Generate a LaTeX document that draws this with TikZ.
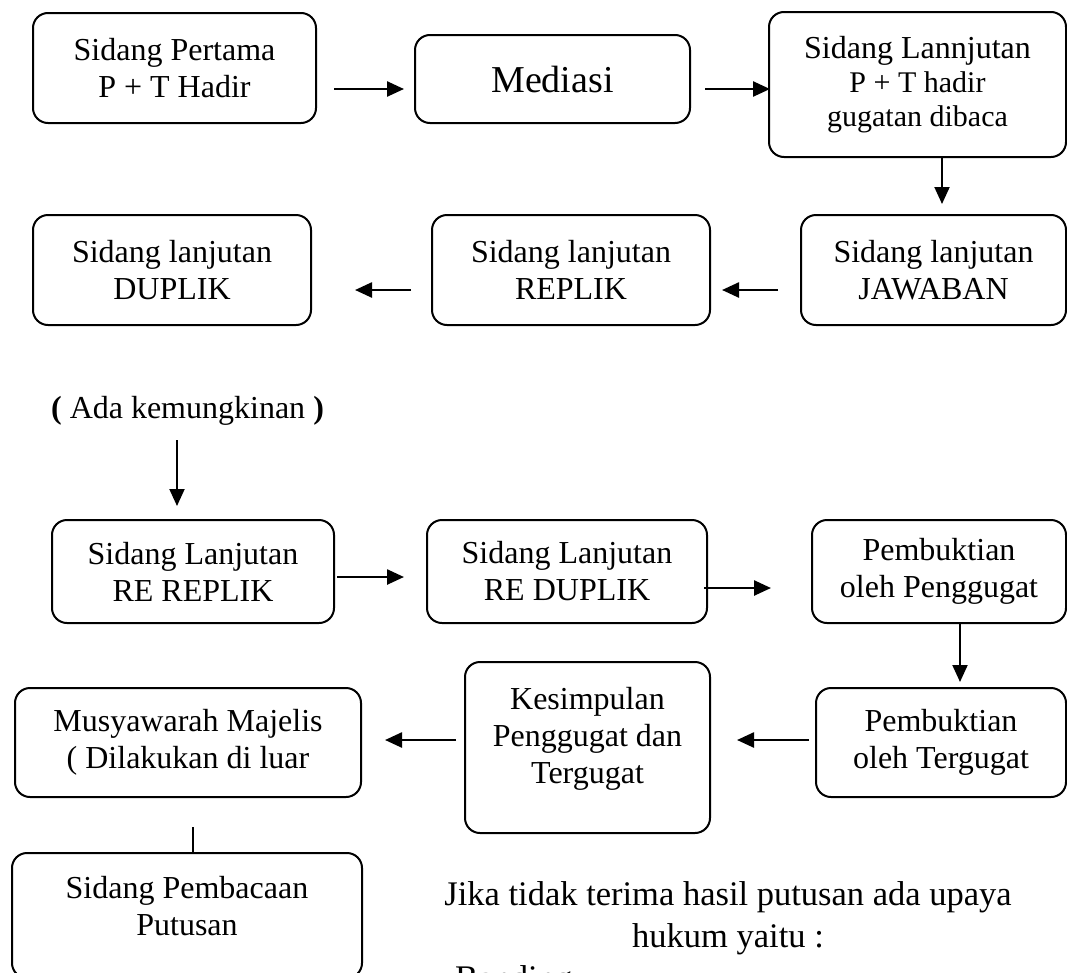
\documentclass[tikz,border=0pt]{standalone}
\usepackage{fontspec}
\setmainfont{Liberation Serif}
\usetikzlibrary{calc,arrows.meta}

\begin{document}
\begin{tikzpicture}[
  x=1pt, y=-1pt,
  box/.style={draw, line width=2pt, rounded corners=15pt, align=center,
    inner sep=2pt, font=\fontsize{32}{37}\selectfont},
  flow/.style={draw, line width=2.5pt, -{Triangle[length=17pt,width=15pt]}},
  drop/.style={draw, line width=2pt, -{Triangle[length=17pt,width=15pt]}},
  note/.style={inner sep=0pt, font=\fontsize{34.5}{42}\selectfont}
]
\useasboundingbox (0,0) rectangle (1067,972);

% baris 1
\node[box, minimum width=283, minimum height=110] (pertama) at (174.5,68) {Sidang Pertama\\P + T Hadir};
\node[box, minimum width=275, minimum height=88, font=\fontsize{38}{44}\selectfont] (mediasi) at (552.5,79) {Mediasi};
\node[box, minimum width=297, minimum height=145, font=\fontsize{30}{34}\selectfont] (lanjut) at (917.5,84.5)
  {{\fontsize{32}{34}\selectfont Sidang Lannjutan}\\P + T hadir\\gugatan dibaca};

% baris 2
\node[box, minimum width=278, minimum height=110] (duplik) at (172,270) {Sidang lanjutan\\DUPLIK};
\node[box, minimum width=278, minimum height=110] (replik) at (571,270) {Sidang lanjutan\\REPLIK};
\node[box, minimum width=265, minimum height=110] (jawaban) at (933.5,270) {Sidang lanjutan\\JAWABAN};

\node[inner sep=0pt, anchor=base, font=\fontsize{32}{37}\selectfont] (ada) at (187.5,418)
  {\textbf{(} Ada kemungkinan \textbf{)}};

% baris 3
\node[box, minimum width=282, minimum height=103] (rereplik) at (193,571.5) {Sidang Lanjutan\\RE REPLIK};
\node[box, minimum width=280, minimum height=103] (reduplik) at (567,571.5) {Sidang Lanjutan\\RE DUPLIK};
\node[box, minimum width=254, minimum height=103] (bukti1) at (939,571.5) {Pembuktian\\oleh Penggugat};

% baris 4
\node[box, minimum width=250, minimum height=109] (bukti2) at (941,742.5) {Pembuktian\\oleh Tergugat};
\node[box, minimum width=245, minimum height=171, text depth=24pt] (simpul) at (587.5,747.5)
  {Kesimpulan\\Penggugat dan\\Tergugat};
\node[box, minimum width=346, minimum height=109] (musyawarah) at (188,742.5)
  {Musyawarah Majelis\\( Dilakukan di luar};
\node[box, minimum width=350, minimum height=125, text depth=19pt] (putusan) at (187,915.5)
  {Sidang Pembacaan\\Putusan};

\node[note, anchor=base] (jika1) at (728,905) {Jika tidak terima hasil putusan ada upaya};
\node[note, anchor=base] (jika2) at (728,947) {hukum yaitu :};
\node[note, anchor=base west] (banding) at (455,989) {Banding};

% panah
\draw[flow, shorten <=17pt, shorten >=10pt] (pertama.east |- 0,89) -- (mediasi.west |- 0,89);
\draw[flow, shorten <=14pt, shorten >=-2pt] (mediasi.east |- 0,89) -- (lanjut.west |- 0,89);
\draw[drop, shorten >=10pt] (lanjut.south -| 942,0) -- (jawaban.north -| 942,0);
\draw[flow, shorten <=22pt, shorten >=11pt] (jawaban.west |- 0,290) -- (replik.east |- 0,290);
\draw[flow, shorten <=20pt, shorten >=43pt] (replik.west |- 0,290) -- (duplik.east |- 0,290);
\draw[drop, shorten <=15pt, shorten >=13pt] (ada.south -| 177,0) -- (rereplik.north -| 177,0);
\draw[flow, shorten <=2pt, shorten >=22pt] (rereplik.east |- 0,577) -- (reduplik.west |- 0,577);
\draw[flow, shorten <=-4pt, shorten >=40pt] (reduplik.east |- 0,588) -- (bukti1.west |- 0,588);
\draw[drop, shorten >=5pt] (bukti1.south -| 960,0) -- (bukti2.north -| 960,0);
\draw[flow, shorten <=6pt, shorten >=26pt] (bukti2.west |- 0,740) -- (simpul.east |- 0,740);
\draw[flow, shorten <=8pt, shorten >=23pt] (simpul.west |- 0,740) -- (musyawarah.east |- 0,740);
\draw[line width=2pt, shorten <=29pt] (musyawarah.south -| 193,0) -- (putusan.north -| 193,0);
\end{tikzpicture}
\end{document}
